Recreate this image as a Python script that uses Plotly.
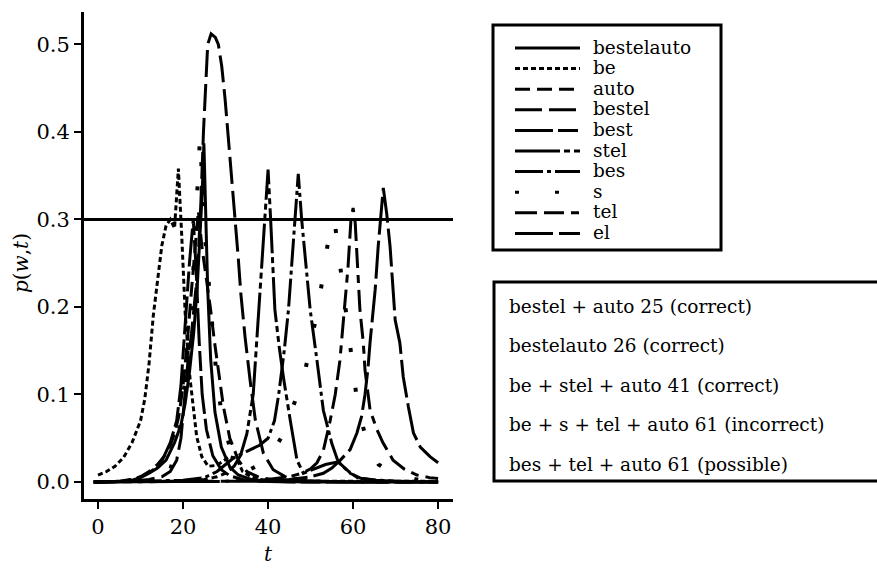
import plotly.graph_objects as go

# ---------------- data ----------------
series_names = ["bestelauto", "be", "auto", "bestel", "best", "stel", "bes", "s", "tel", "el"]

t_bestelauto = [-1, 5, 8, 10, 12, 14, 16, 18, 19.5, 20.5, 21.5, 22.5, 23.3, 24, 24.5, 24.9, 25.3, 25.8, 26.5, 27.5, 29, 31, 33, 36, 40, 50, 60, 70, 80]
p_bestelauto = [0, 0.0005, 0.002, 0.005, 0.01, 0.016, 0.025, 0.045, 0.065, 0.09, 0.125, 0.17, 0.22, 0.28, 0.33, 0.387, 0.31, 0.22, 0.14, 0.08, 0.04, 0.017, 0.008, 0.003, 0.001, 0, 0, 0, 0]

t_be = [0, 2, 4, 6, 8, 10, 11, 12, 13, 14, 15, 16, 17, 18, 18.9, 19.7, 20.5, 21.6, 23.2, 24.4, 25.9, 27.9, 29.5, 31, 32.6, 34, 36, 38, 40, 45, 50, 55, 60, 65, 70, 75, 80]
p_be = [0.008, 0.012, 0.018, 0.028, 0.045, 0.07, 0.095, 0.135, 0.19, 0.23, 0.27, 0.293, 0.3, 0.29, 0.358, 0.28, 0.193, 0.12, 0.052, 0.029, 0.018, 0.019, 0.024, 0.029, 0.027, 0.012, 0.006, 0.003, 0.002, 0.001, 0.001, 0.001, 0.001, 0.001, 0.001, 0.001, 0.001]

t_auto = [-1, 5, 8, 10, 12, 14, 16, 17, 18, 19, 20, 21, 22, 22.8, 23.6, 24.4, 25.3, 26.4, 27.4, 28.5, 29.5, 31, 33, 35, 38, 42, 50, 60, 70, 80]
p_auto = [0, 0.001, 0.003, 0.006, 0.012, 0.02, 0.032, 0.042, 0.055, 0.075, 0.11, 0.16, 0.22, 0.27, 0.31, 0.27, 0.24, 0.2, 0.16, 0.12, 0.086, 0.05, 0.025, 0.012, 0.005, 0.002, 0.001, 0, 0, 0]

t_bestel = [-1, 8, 12, 15, 17, 18.5, 19.5, 20.5, 21.2, 22, 23, 23.6, 24.2, 24.8, 25.3, 25.8, 26.6, 27.6, 28.3, 29.1, 29.9, 30.7, 31.5, 32.2, 33, 33.6, 34.6, 35.8, 37, 38.9, 41.2, 44.4, 50, 60, 70, 80]
p_bestel = [0, 0.001, 0.003, 0.006, 0.012, 0.025, 0.05, 0.1, 0.14, 0.17, 0.22, 0.26, 0.32, 0.4, 0.46, 0.5, 0.512, 0.508, 0.5, 0.475, 0.437, 0.39, 0.353, 0.307, 0.255, 0.215, 0.165, 0.115, 0.071, 0.033, 0.014, 0.005, 0.001, 0, 0, 0]

t_best = [-1, 6, 9, 11, 13, 15, 17, 18.5, 19.5, 20.5, 21.5, 22.4, 23, 23.8, 24.5, 25.5, 27, 29, 31, 34, 38, 45, 55, 65, 80]
p_best = [0, 0.001, 0.004, 0.008, 0.014, 0.024, 0.045, 0.07, 0.11, 0.18, 0.25, 0.30, 0.25, 0.16, 0.1, 0.06, 0.03, 0.014, 0.007, 0.003, 0.001, 0, 0, 0, 0]

t_stel = [-1, 20, 25, 28, 30, 32, 33.5, 35, 36.5, 37.3, 38.3, 39.3, 40, 40.6, 41.6, 42.6, 43.6, 45.2, 46.8, 48.3, 51, 53.5, 56.5, 59, 61, 65, 70, 80]
p_stel = [0, 0.001, 0.003, 0.006, 0.01, 0.018, 0.03, 0.055, 0.1, 0.16, 0.23, 0.3, 0.357, 0.3, 0.197, 0.155, 0.12, 0.071, 0.025, 0.01, 0.015, 0.02, 0.023, 0.012, 0.005, 0.002, 0.001, 0]

t_bes = [-1, 15, 20, 25, 28, 30, 32, 35, 38, 40, 41.5, 42.5, 43.8, 44.8, 45.6, 46.4, 47.1, 47.9, 48.9, 49.9, 51.5, 53, 55, 56.5, 59.3, 62, 66, 70, 80]
p_bes = [0, 0.001, 0.002, 0.005, 0.012, 0.02, 0.028, 0.035, 0.042, 0.05, 0.07, 0.1, 0.15, 0.197, 0.25, 0.3, 0.352, 0.3, 0.25, 0.197, 0.139, 0.082, 0.044, 0.023, 0.01, 0.004, 0.002, 0.001, 0]

t_s = [-1, 8, 12, 15, 17, 18.9, 19.7, 21, 22, 23, 24, 25, 26.4, 27.2, 27.9, 29, 31, 33, 36, 40, 43, 45.2, 48.3, 51.8, 53.2, 54.4, 55.6, 56.7, 58.8, 59.8, 61, 63, 66, 70, 75, 80]
p_s = [0, 0.001, 0.004, 0.008, 0.014, 0.05, 0.082, 0.14, 0.2, 0.29, 0.395, 0.29, 0.197, 0.159, 0.12, 0.08, 0.039, 0.02, 0.015, 0.025, 0.05, 0.077, 0.117, 0.2, 0.242, 0.284, 0.3, 0.257, 0.171, 0.13, 0.09, 0.05, 0.02, 0.008, 0.003, 0.001]

t_tel = [-1, 30, 40, 45, 48, 50, 51.5, 53, 54.6, 55.8, 56.9, 57.9, 58.8, 59.5, 60, 60.5, 61.3, 61.6, 62.4, 62.8, 64, 65.6, 67, 69.4, 72, 75, 78, 80]
p_tel = [0, 0.001, 0.003, 0.006, 0.01, 0.015, 0.022, 0.036, 0.07, 0.1, 0.139, 0.197, 0.245, 0.3, 0.313, 0.296, 0.231, 0.197, 0.159, 0.128, 0.082, 0.06, 0.045, 0.025, 0.015, 0.008, 0.005, 0.004]

t_el = [-1, 40, 45, 50, 53, 55, 57, 59.3, 60.9, 62, 62.8, 63.5, 64, 64.6, 65.2, 65.9, 66.5, 67.1, 67.9, 68.7, 69.4, 69.9, 71, 71.8, 73, 74.2, 75.8, 78.1, 80]
p_el = [0, 0.001, 0.003, 0.006, 0.01, 0.016, 0.025, 0.037, 0.056, 0.075, 0.1, 0.13, 0.16, 0.19, 0.22, 0.269, 0.303, 0.336, 0.307, 0.269, 0.22, 0.185, 0.159, 0.12, 0.086, 0.056, 0.04, 0.029, 0.022]

series_t = [t_bestelauto, t_be, t_auto, t_bestel, t_best, t_stel, t_bes, t_s, t_tel, t_el]
series_p = [p_bestelauto, p_be, p_auto, p_bestel, p_best, p_stel, p_bes, p_s, p_tel, p_el]

x_ticks = [0, 20, 40, 60, 80]
y_ticks = [0.0, 0.1, 0.2, 0.3, 0.4, 0.5]
y_ticklabels = ["0.0", "0.1", "0.2", "0.3", "0.4", "0.5"]
threshold = 0.3

notes = [
    "bestel + auto 25 (correct)",
    "bestelauto 26 (correct)",
    "be + stel + auto 41 (correct)",
    "be + s + tel + auto 61 (incorrect)",
    "bes + tel + auto 61 (possible)",
]

# ---------------- styles ----------------
dashes = {
    "bestelauto": "solid",
    "be": "5px,3px",
    "auto": "15px,7px",
    "bestel": "27px,7px",
    "best": "38px,5px,20px,5px",
    "stel": "45px,4px,6px,4px,6px,4px",
    "bes": "28px,4px,4px,4px",
    "s": "4px,36px",
    "tel": "22px,7px,20px,7px,8px,7px",
    "el": "38px,6px",
}
widths = {name: (4 if name == "s" else 3) for name in series_names}
FONT = "DejaVu Serif"
W, H = 877, 568
ML, MR, MT, MB = 84, 424, 12, 69


def fx(px):
    return (px - ML) / (W - ML - MR)


def fy(py):
    return (H - MB - py) / (H - MT - MB)


fig = go.Figure()
for name, tt, pp in zip(series_names, series_t, series_p):
    fig.add_trace(go.Scatter(
        x=tt, y=pp, mode="lines", name=name, showlegend=False,
        line=dict(color="black", width=widths[name], dash=dashes[name]),
    ))

shapes = []
annotations = []

# horizontal reference line at p = 0.3
shapes.append(dict(type="line", xref="paper", x0=0, x1=1, yref="y", y0=threshold, y1=threshold,
                   line=dict(color="black", width=3)))

# legend box (drawn by hand to get the long line samples)
shapes.append(dict(type="rect", xref="paper", yref="paper",
                   x0=fx(493), x1=fx(721), y0=fy(25), y1=fy(250),
                   line=dict(color="black", width=3), fillcolor="rgba(0,0,0,0)"))
for i, name in enumerate(series_names):
    yy = 48 + 20.6 * i
    shapes.append(dict(type="line", xref="paper", yref="paper",
                       x0=fx(515), x1=fx(580), y0=fy(yy), y1=fy(yy),
                       line=dict(color="black", width=3, dash=dashes[name])))
    annotations.append(dict(text=name, xref="paper", yref="paper", x=fx(591), y=fy(yy - 1),
                            xanchor="left", yanchor="middle", showarrow=False,
                            font=dict(family=FONT, size=18.5, color="black")))

# notes box
shapes.append(dict(type="rect", xref="paper", yref="paper",
                   x0=fx(494), x1=fx(885), y0=fy(282), y1=fy(481),
                   line=dict(color="black", width=3), fillcolor="rgba(0,0,0,0)"))
for i, txt in enumerate(notes):
    yy = 306 + 39.5 * i
    annotations.append(dict(text=txt, xref="paper", yref="paper", x=fx(507), y=fy(yy),
                            xanchor="left", yanchor="middle", showarrow=False,
                            font=dict(family=FONT, size=18.5, color="black")))

# axis titles
annotations.append(dict(text="<i>t</i>", xref="paper", yref="paper", x=fx(268), y=fy(554),
                        xanchor="center", yanchor="middle", showarrow=False,
                        font=dict(family=FONT, size=20, color="black")))
annotations.append(dict(text="<i>p</i>(<i>w</i>,<i>t</i>)", xref="paper", yref="paper", x=fx(21), y=fy(263),
                        xanchor="center", yanchor="middle", showarrow=False, textangle=-90,
                        font=dict(family=FONT, size=20, color="black")))

fig.update_layout(
    width=W, height=H,
    margin=dict(l=ML, r=MR, t=MT, b=MB),
    paper_bgcolor="white", plot_bgcolor="white",
    font=dict(family=FONT, size=21, color="black"),
    shapes=shapes, annotations=annotations,
    showlegend=False,
)
fig.update_xaxes(
    range=[-3.3, 83.5], showline=True, linewidth=3, linecolor="black",
    ticks="outside", ticklen=7, tickwidth=2, tickcolor="black",
    tickvals=x_ticks, showgrid=False, zeroline=False,
    tickfont=dict(family=FONT, size=21), automargin=False,
)
fig.update_yaxes(
    range=[-0.0194, 0.537], showline=True, linewidth=3, linecolor="black",
    ticks="outside", ticklen=7, tickwidth=2, tickcolor="black",
    tickvals=y_ticks, ticktext=y_ticklabels, showgrid=False, zeroline=False,
    tickfont=dict(family=FONT, size=21), automargin=False,
)

fig.write_html("out.html", config={"displayModeBar": False},
               post_script="document.body.style.margin='0';")
